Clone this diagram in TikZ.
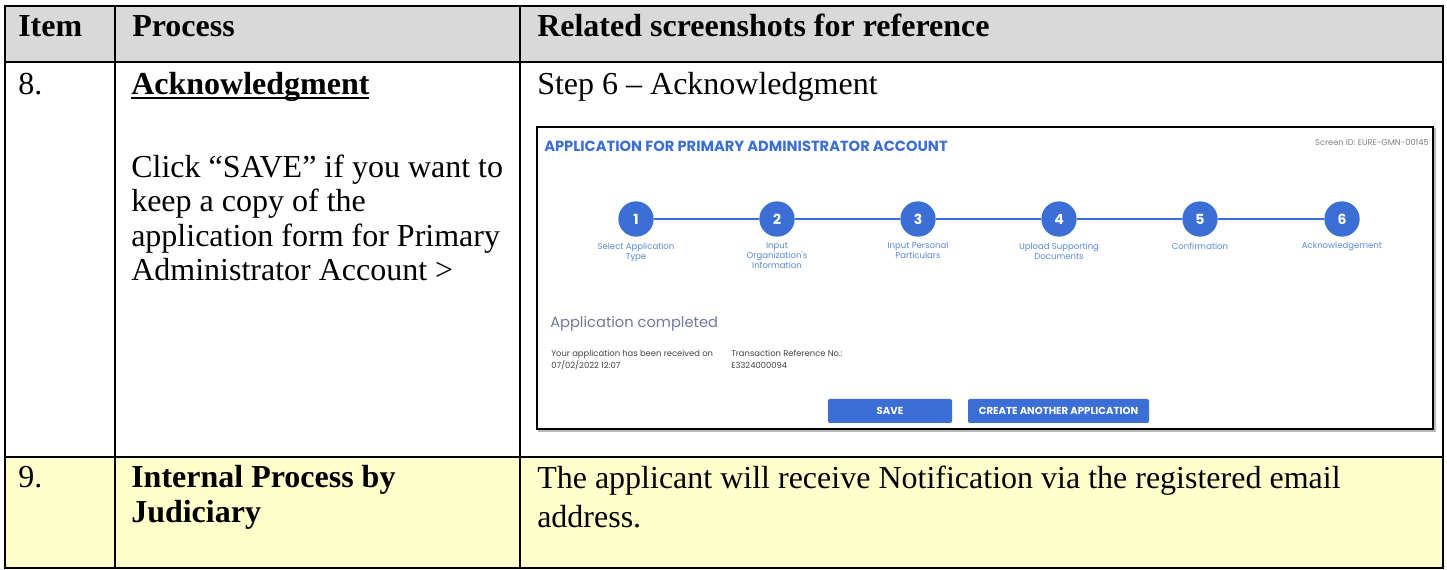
\documentclass[tikz,border=0pt]{standalone}
\usepackage{fontspec}
\setmainfont{Liberation Serif}
\newfontfamily\uifont{Poppins}
\usetikzlibrary{positioning}
\definecolor{hdrgray}{HTML}{D9D9D9}
\definecolor{rowyellow}{HTML}{FFFFCC}
\definecolor{uiblue}{HTML}{3B6FD6}
\definecolor{uilabel}{HTML}{5B87DD}
\definecolor{uislate}{HTML}{6F7A99}
\definecolor{uitext}{HTML}{444444}
% heavier underline than \underline gives
\newcommand\thickul[1]{\setbox0\hbox{#1}\rlap{\raisebox{-3pt}{\rule{\wd0}{1.5pt}}}\box0}
\tikzset{
  grid/.style={line width=1.5pt},
  cell/.style={anchor=base west, inner sep=0pt, align=left, font=\fontsize{24}{25.9}\selectfont},
  cellhead/.style={cell, font=\fontsize{24}{25.9}\selectfont\bfseries},
  stepdot/.style={circle, fill=uiblue, inner sep=0pt, minimum size=26.5pt, text=white, font=\uifont\bfseries\fontsize{10.5}{12}\selectfont},
  stepline/.style={uiblue, line width=2.2pt},
  steplabel/.style={inner sep=0pt, align=center, text=uilabel, font=\uifont\fontsize{6.4}{7.6}\selectfont},
  uismall/.style={anchor=base west, inner sep=0pt, text=uitext, font=\uifont\fontsize{6.3}{7}\selectfont},
  uibtn/.style={fill=uiblue, rounded corners=1.5pt, minimum height=18pt, inner sep=0pt, text=white, font=\uifont\bfseries\fontsize{7.6}{8}\selectfont}
}
\begin{document}
\begin{tikzpicture}[x=0.75pt, y=-0.75pt]
\useasboundingbox (0,0) rectangle (1447,570);
% row shading
\fill[hdrgray] (5,6) rectangle (1443,62);
\fill[rowyellow] (5,457) rectangle (1443,568);
% table rules
\draw[grid] (5,6) rectangle (1443,568);
\draw[grid] (5,62) -- (1443,62);
\draw[grid] (5,457) -- (1443,457);
\foreach \x in {115,520}
  \draw[grid] (\x,6) -- (\x,568);

% header row
\node[cellhead] (hitem) at (18,37) {Item};
\node[cellhead] (hproc) at (132,37) {Process};
\node[cellhead] (hshot) at (537,37) {Related screenshots for reference};

% item 8 (multi-line cells sit on their last baseline)
\node[cell] (item8) at (18,95) {8.};
\node[cellhead] (ack) at (131,95) {\thickul{Acknowledgment}};
\node[cell] (clicksave) at (131,281) {Click ``SAVE'' if you want to\\keep a copy of the\\application form for Primary\\Administrator Account >};
\node[cell] (step6) at (537,95) {Step 6 -- Acknowledgment};

% screenshot of the acknowledgement page
\draw[gray!55, line width=1pt] (539,129) rectangle (1435,431);
\draw[line width=1.2pt, fill=white] (537,127) rectangle (1433,429);
\node[anchor=west, inner sep=0pt, text=uiblue, font=\uifont\bfseries\fontsize{11}{12}\selectfont] (apptitle) at (544,146) {APPLICATION FOR PRIMARY ADMINISTRATOR ACCOUNT};
\node[anchor=east, inner sep=0pt, text=gray, font=\uifont\fontsize{6.2}{7}\selectfont] (screenid) at (1429,143) {Screen ID: EURE-GMN-00145};

\foreach \i/\x in {1/636,2/777,3/918,4/1059,5/1200,6/1342}
  \node[stepdot] (s\i) at (\x,219) {\i};
\foreach \i/\j in {1/2,2/3,3/4,4/5,5/6}
  \draw[stepline] (s\i) -- (s\j);
\foreach \i/\txt in {1/{Select Application\\Type}, 2/{Input\\Organization's\\Information}, 3/{Input Personal\\Particulars}, 4/{Upload Supporting\\Documents}, 5/{Confirmation}, 6/{Acknowledgement}}
  \node[steplabel, below=4pt of s\i] (l\i) {\txt};

\node[anchor=base west, inner sep=0pt, text=uislate, font=\uifont\fontsize{11}{13}\selectfont] (done) at (550,328) {Application completed};
\node[uismall] (recv) at (551,357) {Your application has been received on};
\node[uismall] (recvdate) at (551,369) {07/02/2022 12:07};
\node[uismall] (txref) at (731,357) {Transaction Reference No.:};
\node[uismall] (txno) at (731,369) {E3324000094};

\node[uibtn, minimum width=93pt] (save) at (890,411) {SAVE};
\node[uibtn, minimum width=135.75pt] (another) at (1058.5,411) {CREATE ANOTHER APPLICATION};

% item 9
\node[cell] (item9) at (18,488) {9.};
\node[cellhead] (internal) at (131,522) {Internal Process by\\Judiciary};
\node[cell, font=\fontsize{24}{29}\selectfont] (notify) at (537,527) {The applicant will receive Notification via the registered email\\address.};
\end{tikzpicture}
\end{document}
